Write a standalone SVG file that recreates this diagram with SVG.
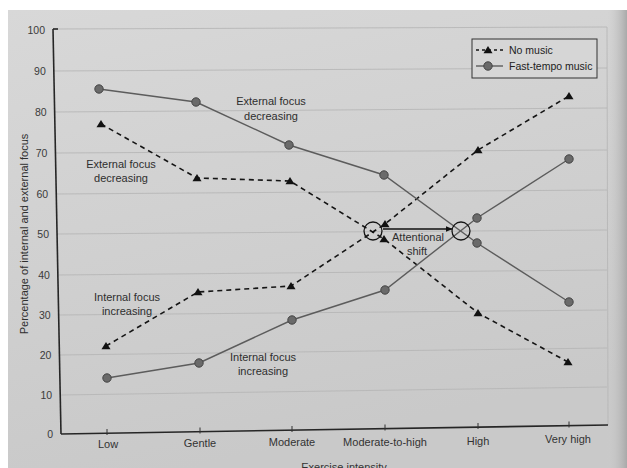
<svg xmlns="http://www.w3.org/2000/svg" width="627" height="468" viewBox="0 0 627 468">
<defs>
<style>
.tick{font-family:"Liberation Sans",Arial,sans-serif;font-size:10.5px;fill:#3a3a3a;text-anchor:end}
.cat{font-family:"Liberation Sans",Arial,sans-serif;font-size:11px;fill:#333;text-anchor:middle}
.ann{font-family:"Liberation Sans",Arial,sans-serif;font-size:11px;fill:#2e2e2e;text-anchor:middle}
.leg{font-family:"Liberation Sans",Arial,sans-serif;font-size:10.5px;fill:#222}
.grid{stroke:#b7b7b7;stroke-width:0.9;fill:none}
.axis{stroke:#262626;stroke-width:1.6;fill:none}
.nm{stroke:#151515;stroke-width:1.6;stroke-dasharray:5 4;fill:none}
.ft{stroke:#5c5c5c;stroke-width:1.4;fill:none}
.ring{stroke:#151515;stroke-width:1.3;fill:none}
</style>
<linearGradient id="pg" x1="0" y1="0" x2="0.3" y2="1">
<stop offset="0" stop-color="#d8d8d8"/>
<stop offset="1" stop-color="#c9c9c9"/>
</linearGradient>
<linearGradient id="edge" x1="0" y1="0" x2="1" y2="0">
<stop offset="0" stop-color="#cfcfcf" stop-opacity="0"/>
<stop offset="1" stop-color="#a9a9a9"/>
</linearGradient>
<path id="tri" d="M0,-4 L4.5,3.2 L-4.5,3.2 Z" fill="#111"/>
<circle id="dot" r="4.2" fill="#6a6a6a" stroke="#444" stroke-width="1"/>
<marker id="arr" viewBox="0 0 10 10" refX="9" refY="5" markerWidth="7" markerHeight="7" orient="auto" markerUnits="userSpaceOnUse">
<path d="M0,1 L10,5 L0,9 Z" fill="#111"/>
</marker>
</defs>

<g id="background">
<rect x="0" y="0" width="627" height="468" fill="#ffffff"/>
<rect x="8" y="10" width="619" height="458" fill="url(#pg)"/>
<rect x="607" y="10" width="20" height="458" fill="url(#edge)"/>
</g>

<g id="grid">
<line class="grid" x1="60.2" y1="395" x2="607" y2="387"/>
<line class="grid" x1="59.4" y1="355" x2="607" y2="348"/>
<line class="grid" x1="58.6" y1="315" x2="607" y2="310"/>
<line class="grid" x1="57.8" y1="275" x2="607" y2="270"/>
<line class="grid" x1="57" y1="234" x2="607" y2="230"/>
<line class="grid" x1="56.2" y1="194" x2="607" y2="190"/>
<line class="grid" x1="55.4" y1="153" x2="607" y2="150"/>
<line class="grid" x1="54.6" y1="112" x2="607" y2="108"/>
<line class="grid" x1="53.8" y1="71" x2="607" y2="68"/>
<line class="grid" x1="53" y1="29" x2="607" y2="27"/>
<line class="grid" x1="607" y1="27" x2="608" y2="425"/>
</g>

<g id="axes">
<line class="axis" x1="53" y1="29" x2="61" y2="434"/>
<line class="axis" x1="61" y1="434" x2="608" y2="425"/>
<line class="axis" x1="53" y1="29" x2="58" y2="29"/>
<g stroke="#333" stroke-width="1">
<line x1="107" y1="429" x2="107" y2="435"/>
<line x1="200" y1="427.5" x2="200" y2="433.5"/>
<line x1="292" y1="426" x2="292" y2="432"/>
<line x1="385" y1="424.5" x2="385" y2="430.5"/>
<line x1="478" y1="423" x2="478" y2="429"/>
<line x1="569" y1="421.5" x2="569" y2="427.5"/>
</g>
</g>

<g id="y-labels">
<text class="tick" x="53" y="438">0</text>
<text class="tick" x="52.2" y="399">10</text>
<text class="tick" x="51.4" y="359">20</text>
<text class="tick" x="50.6" y="319">30</text>
<text class="tick" x="49.9" y="279">40</text>
<text class="tick" x="49" y="238">50</text>
<text class="tick" x="48.2" y="198">60</text>
<text class="tick" x="47.4" y="157">70</text>
<text class="tick" x="46.6" y="116">80</text>
<text class="tick" x="45.8" y="75">90</text>
<text class="tick" x="45" y="34">100</text>
<text class="ann" transform="translate(28,234) rotate(-90)">Percentage of internal and external focus</text>
</g>

<g id="x-labels">
<text class="cat" x="108" y="448">Low</text>
<text class="cat" x="200" y="447">Gentle</text>
<text class="cat" x="292" y="446">Moderate</text>
<text class="cat" x="385" y="446">Moderate-to-high</text>
<text class="cat" x="478" y="445">High</text>
<text class="cat" x="568" y="443">Very high</text>
<text class="cat" x="344" y="471">Exercise intensity</text>
</g>

<g id="connectors">
<polyline class="nm" points="101,124 197,178 290,181 384,239 478,313 568,362"/>
<polyline class="nm" points="106,346 198,292 291,286 385,224 478,150 569,96"/>
<polyline class="ft" points="99,89 196,102 289,145 384,175 477,243 569,302"/>
<polyline class="ft" points="107,378 199,363 292,320 385,290 477,218 569,159"/>
<line x1="383" y1="229" x2="452" y2="229" stroke="#111" stroke-width="1.3" marker-end="url(#arr)"/>
</g>

<g id="no-music-points">
<use href="#tri" x="101" y="124"/>
<use href="#tri" x="197" y="178"/>
<use href="#tri" x="290" y="181"/>
<use href="#tri" x="384" y="239"/>
<use href="#tri" x="478" y="313"/>
<use href="#tri" x="568" y="362"/>
<use href="#tri" x="106" y="346"/>
<use href="#tri" x="198" y="292"/>
<use href="#tri" x="291" y="286"/>
<use href="#tri" x="385" y="224"/>
<use href="#tri" x="478" y="150"/>
<use href="#tri" x="569" y="96"/>
</g>

<g id="fast-tempo-points">
<use href="#dot" x="99" y="89"/>
<use href="#dot" x="196" y="102"/>
<use href="#dot" x="289" y="145"/>
<use href="#dot" x="384" y="175"/>
<use href="#dot" x="477" y="243"/>
<use href="#dot" x="569" y="302"/>
<use href="#dot" x="107" y="378"/>
<use href="#dot" x="199" y="363"/>
<use href="#dot" x="292" y="320"/>
<use href="#dot" x="385" y="290"/>
<use href="#dot" x="477" y="218"/>
<use href="#dot" x="569" y="159"/>
</g>

<g id="crossovers">
<circle class="ring" cx="373" cy="231" r="9"/>
<circle class="ring" cx="461" cy="231" r="9"/>
</g>

<g id="annotations">
<text class="ann" x="271" y="105">External focus</text>
<text class="ann" x="271" y="120">decreasing</text>
<text class="ann" x="121" y="168">External focus</text>
<text class="ann" x="121" y="182">decreasing</text>
<text class="ann" x="127" y="301">Internal focus</text>
<text class="ann" x="127" y="315">increasing</text>
<text class="ann" x="263" y="361">Internal focus</text>
<text class="ann" x="263" y="375">increasing</text>
<text class="ann" x="418" y="241">Attentional</text>
<text class="ann" x="417" y="255">shift</text>
</g>

<g id="legend">
<rect x="472" y="39" width="125" height="39" fill="#d6d6d6" stroke="#333" stroke-width="1"/>
<line x1="476" y1="50" x2="503" y2="50" stroke="#151515" stroke-width="1.5" stroke-dasharray="3 3"/>
<use href="#tri" x="488" y="50"/>
<text class="leg" x="509" y="54">No music</text>
<line x1="476" y1="66" x2="503" y2="66" stroke="#5c5c5c" stroke-width="1.4"/>
<use href="#dot" x="488" y="66"/>
<text class="leg" x="509" y="70">Fast-tempo music</text>
</g>
</svg>
